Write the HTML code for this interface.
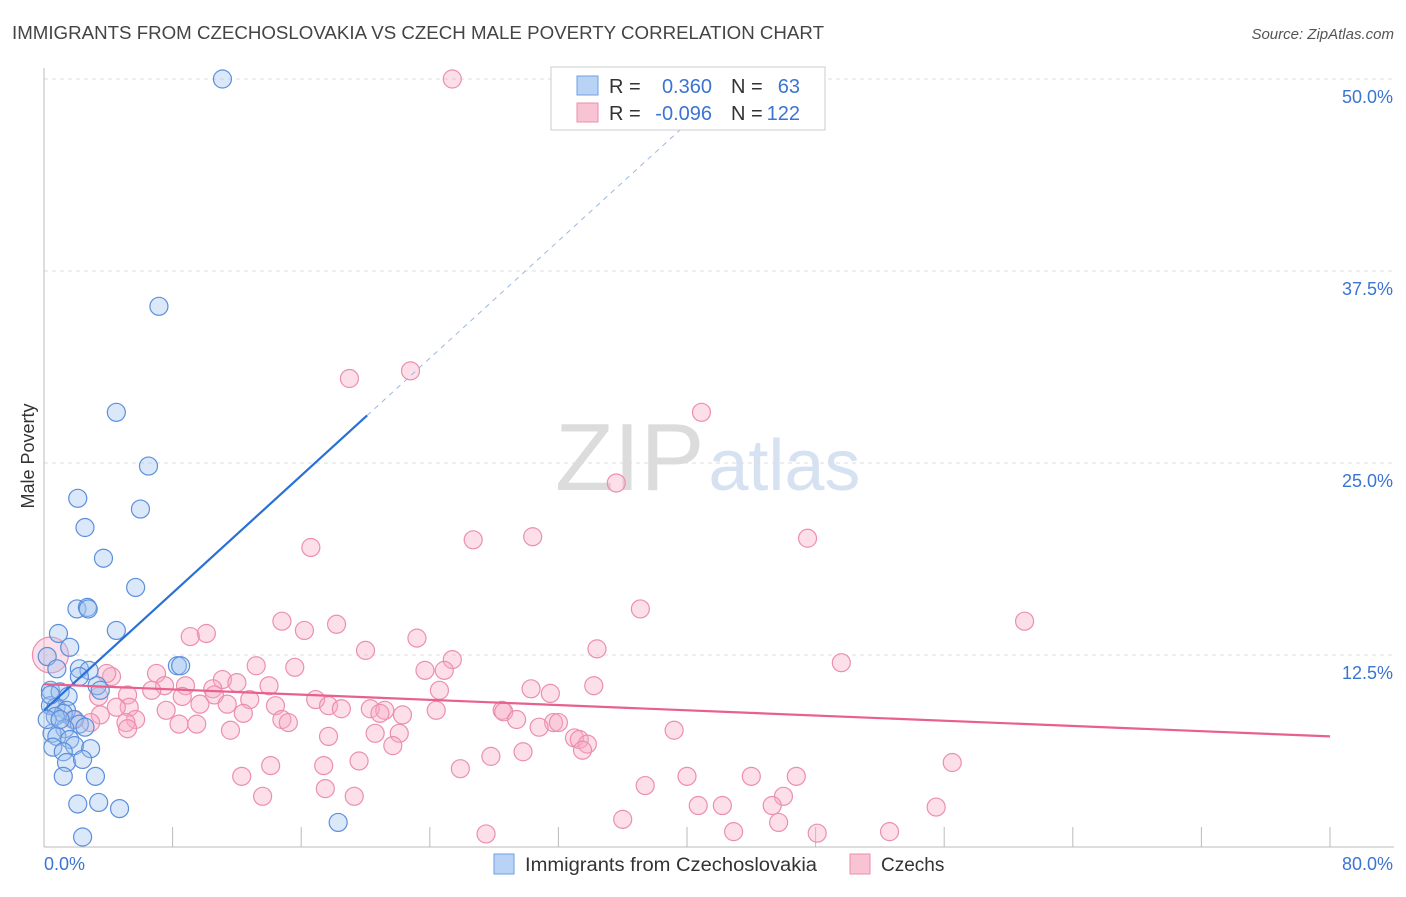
<!DOCTYPE html>
<html><head><meta charset="utf-8">
<style>
body{margin:0;background:#fff;font-family:"Liberation Sans",sans-serif;}
svg text{font-family:"Liberation Sans",sans-serif;}
</style></head>
<body>
<svg id="chart" width="1406" height="892" xmlns="http://www.w3.org/2000/svg">
<text x="12" y="39" font-size="18" fill="#444" textLength="812" lengthAdjust="spacingAndGlyphs">IMMIGRANTS FROM CZECHOSLOVAKIA VS CZECH MALE POVERTY CORRELATION CHART</text>
<text x="1394" y="39" font-size="15" fill="#555" text-anchor="end" font-style="italic">Source: ZipAtlas.com</text>
<text x="555" y="490" font-size="96" fill="#e4e4e4" font-family="Liberation Serif"><tspan fill="#dcdcdc">ZIP</tspan><tspan fill="#d6e2f2" font-family="Liberation Sans" font-size="72" dx="4">atlas</tspan></text>
<g id="grid"></g>
<g id="axes"></g>
<g id="points"></g>
<g id="lines"></g>
<text transform="translate(34,456) rotate(-90)" font-size="18" fill="#333" text-anchor="middle">Male Poverty</text>
<g>
<rect x="551" y="67" width="274" height="63" fill="#fff" stroke="#ccc"/>
<rect x="577" y="76" width="21" height="19" fill="#b8d3f5" stroke="#6f9fe0"/>
<rect x="577" y="103" width="21" height="19" fill="#f8c3d3" stroke="#ec8fae"/>
<text x="609" y="93" font-size="20" fill="#333">R =</text>
<text x="712" y="93" font-size="20" fill="#3b74d1" text-anchor="end">0.360</text>
<text x="731" y="93" font-size="20" fill="#333">N =</text>
<text x="800" y="93" font-size="20" fill="#3b74d1" text-anchor="end">63</text>
<text x="609" y="120" font-size="20" fill="#333">R =</text>
<text x="712" y="120" font-size="20" fill="#3b74d1" text-anchor="end">-0.096</text>
<text x="731" y="120" font-size="20" fill="#333">N =</text>
<text x="800" y="120" font-size="20" fill="#3b74d1" text-anchor="end">122</text>
</g>
<g>
<rect x="494" y="854" width="20" height="20" fill="#b8d3f5" stroke="#6f9fe0"/>
<text x="525" y="871" font-size="19" fill="#333" textLength="292" lengthAdjust="spacingAndGlyphs">Immigrants from Czechoslovakia</text>
<rect x="850" y="854" width="20" height="20" fill="#f8c3d3" stroke="#ec8fae"/>
<text x="881" y="871" font-size="19" fill="#333">Czechs</text>
</g>
</svg>
<script>
const xTicks=[0,8,16,24,32,40,48,56,64,72,80];
const yTicks=[12.5,25,37.5,50];
const yTickLabels=["12.5%","25.0%","37.5%","50.0%"];
const blueX=[11.1,7.15,4.5,6.5,2.1,6.0,2.55,3.7,5.7,2.05,2.7,2.75,4.5,0.9,1.6,0.2,0.8,8.3,8.5,2.2,2.8,2.2,3.3,3.5,0.4,1.0,1.5,0.4,0.75,1.4,1.2,0.7,1.9,2.2,2.55,1.3,0.5,0.8,1.6,0.55,1.9,2.9,1.2,1.4,2.4,1.2,3.2,2.1,3.4,4.7,2.4,18.3,0.2,0.4,1.0];
const blueY=[50.0,35.2,28.3,24.8,22.7,22.0,20.8,18.8,16.9,15.5,15.6,15.5,14.1,13.9,13.0,12.4,11.6,11.8,11.8,11.6,11.5,11.1,10.5,10.2,10.2,10.1,9.8,9.2,9.1,8.9,8.7,8.5,8.3,8.0,7.8,7.7,7.4,7.2,7.0,6.5,6.6,6.4,6.2,5.5,5.7,4.6,4.6,2.8,2.9,2.5,0.65,1.6,8.3,9.9,8.3];
const pinkX=[25.4,19.0,22.8,40.9,35.6,16.6,26.7,30.4,47.5,37.1,61.0,14.8,18.2,16.2,10.1,9.1,23.2,20.0,34.4,25.4,49.6,13.2,15.6,23.7,24.9,7.0,4.2,3.9,11.1,7.5,12.0,14.0,8.8,6.7,10.5,34.2,24.6,30.3,31.5,10.6,5.2,8.6,3.4,12.8,16.9,9.7,11.4,14.4,17.7,18.5,20.3,21.2,24.4,28.5,28.6,7.6,5.3,4.5,3.5,12.4,20.9,22.3,14.8,15.2,5.7,5.1,1.8,2.9,29.4,31.7,32.0,30.8,8.4,9.5,11.6,5.2,39.2,20.6,22.1,17.7,33.0,33.3,33.8,33.5,21.7,29.8,27.8,19.6,17.4,14.1,56.5,25.9,12.3,40.0,44.0,46.8,37.4,17.5,46.0,13.6,19.3,40.7,42.2,45.3,55.5,45.7,36.0,42.9,48.1,52.6,27.5,0.4];
const pinkY=[50,30.5,31.0,28.3,23.7,19.5,20.0,20.2,20.1,15.5,14.7,14.7,14.5,14.1,13.9,13.7,13.6,12.8,12.9,12.2,12.0,11.8,11.7,11.5,11.5,11.3,11.1,11.3,10.9,10.5,10.7,10.5,10.5,10.2,10.3,10.5,10.2,10.3,10.0,9.9,9.9,9.8,9.8,9.6,9.6,9.3,9.3,9.2,9.2,9.0,9.0,8.9,8.9,8.9,8.8,8.9,9.1,9.1,8.6,8.7,8.7,8.6,8.3,8.1,8.3,8.1,8.3,8.1,8.3,8.1,8.1,7.8,8.0,8.0,7.6,7.7,7.6,7.4,7.4,7.2,7.1,7.0,6.7,6.3,6.6,6.2,5.9,5.6,5.3,5.3,5.5,5.1,4.6,4.6,4.6,4.6,4.0,3.8,3.3,3.3,3.3,2.7,2.7,2.7,2.6,1.6,1.8,1.0,0.9,1.0,0.85,12.5];
const blueTrend=[8.9,0.955];   // intercept, slope
const blueSolidEnd=20.1, blueDashEnd=42.6;
const pinkTrend=[10.6,-0.0425];

const X0=44,X1=1330,Y0=847,Y1=79;
const sx=v=>X0+(v/80)*(X1-X0);
const sy=v=>Y0-(v/50)*(Y0-Y1);
const NS="http://www.w3.org/2000/svg";
function mk(tag,parent,attrs){const e=document.createElementNS(NS,tag);for(const k in attrs)e.setAttribute(k,attrs[k]);document.getElementById(parent).appendChild(e);return e;}

yTicks.forEach((t,i)=>{
  const g=mk('line','grid',{x1:X0,x2:1394,y1:sy(t),y2:sy(t),stroke:'#ddd','stroke-dasharray':'4,4'});
  
  
  const l=mk('text','axes',{x:1393,y:sy(t)+24,'font-size':18,fill:'#3b74d1','text-anchor':'end'});
  l.textContent=yTickLabels[i];
  
  
});
const ax=mk('line','axes',{x1:X0,x2:X0,y1:68,y2:Y0,stroke:'#bbb'});


const bx=mk('line','axes',{x1:X0,x2:1394,y1:Y0,y2:Y0,stroke:'#bbb'});


xTicks.forEach(t=>{
  const tk=mk('line','axes',{x1:sx(t),x2:sx(t),y1:Y0,y2:827,stroke:'#bbb'});
  
  
});
const xl0=mk('text','axes',{x:44,y:870,'font-size':18,fill:'#3b74d1'});xl0.textContent=xTicks[0].toFixed(1)+'%';


const xl1=mk('text','axes',{x:1393,y:870,'font-size':18,fill:'#3b74d1','text-anchor':'end'});xl1.textContent=xTicks[xTicks.length-1].toFixed(1)+'%';



pinkX.forEach((x,i)=>{
  const r=(i===pinkX.length-1)?18:9;
  const c=mk('circle','points',{cx:sx(x),cy:sy(pinkY[i]),r:r,fill:'rgba(246,170,195,0.38)',stroke:'#ec8fae','stroke-width':1.2});
  
  
});
blueX.forEach((x,i)=>{
  const c=mk('circle','points',{cx:sx(x),cy:sy(blueY[i]),r:9,fill:'rgba(160,195,240,0.38)',stroke:'#5b8fdc','stroke-width':1.2});
  
  
});
const bl=v=>blueTrend[0]+blueTrend[1]*v;
const b1=mk('line','lines',{x1:sx(0),y1:sy(bl(0)),x2:sx(blueSolidEnd),y2:sy(bl(blueSolidEnd)),stroke:'#2a6fd6','stroke-width':2.2});


const b2=mk('line','lines',{x1:sx(blueSolidEnd),y1:sy(bl(blueSolidEnd)),x2:sx(blueDashEnd),y2:sy(bl(blueDashEnd)),stroke:'#9bb8e0','stroke-width':1,'stroke-dasharray':'5,5'});


const pl=v=>pinkTrend[0]+pinkTrend[1]*v;
const p1=mk('line','lines',{x1:sx(0),y1:sy(pl(0)),x2:sx(80),y2:sy(pl(80)),stroke:'#e8608e','stroke-width':2.2});


</script>
</body></html>
